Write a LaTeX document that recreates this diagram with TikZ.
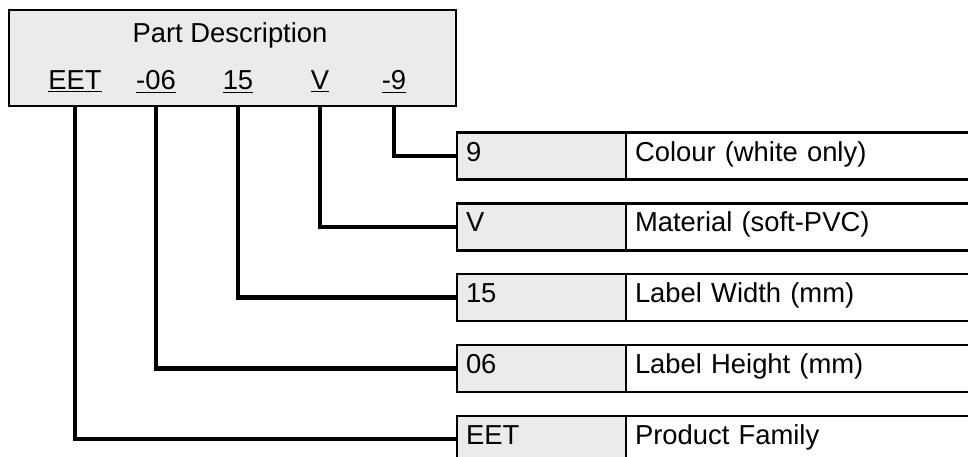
\documentclass[tikz,border=0pt]{standalone}
\usepackage{fontspec}
\setmainfont{Liberation Sans}
\usepackage{tikz}
\usetikzlibrary{positioning}

\begin{document}
\begin{tikzpicture}[
    x=0.5pt, y=-0.5pt,
    font=\fontsize{13.7}{16}\selectfont,
    partbox/.style={rectangle, draw, line width=1.2pt, fill=black!8, outer sep=0pt, minimum width=223.5pt, minimum height=48pt, anchor=north west},
    code/.style={anchor=base, inner sep=0pt},
    valcell/.style={rectangle, draw, line width=1.2pt, fill=black!8, outer sep=0pt, minimum width=84.5pt, minimum height=23.5pt, inner xsep=4.5pt, text width=75.5pt, align=left, text height=0.72em, text depth=0.21em},
    desccell/.style={rectangle, draw, line width=1.2pt, fill=white, outer sep=0pt, minimum width=182pt, minimum height=23.5pt, inner xsep=4.5pt, text width=173pt, align=left, text height=0.72em, text depth=0.21em},
    link/.style={line width=2.2pt}
]
\useasboundingbox (0,0) rectangle (968,456);

% Part description box
\node[partbox] (desc) at (9,10) {};
\node[code] (title) at (230,42) {Part Description};
\node[code] (cEET) at (75,89) {\underline{EET}};
\node[code] (c06) at (156,89) {\underline{-06}};
\node[code] (c15) at (238,89) {\underline{15}};
\node[code] (cV) at (320,89) {\underline{V}};
\node[code] (c9) at (394,89) {\underline{-9}};

% Meaning table
\node[valcell, anchor=north west] (v9) at (457,132.5) {9};
\node[desccell, right=0pt of v9] (d9) {Colour (white only)};
\node[valcell, below=11.9pt of v9] (vV) {V};
\node[desccell, right=0pt of vV] (dV) {Material (soft-PVC)};
\node[valcell, below=11.9pt of vV] (v15) {15};
\node[desccell, right=0pt of v15] (d15) {Label Width (mm)};
\node[valcell, below=11.9pt of v15] (v06) {06};
\node[desccell, right=0pt of v06] (d06) {Label Height (mm)};
\node[valcell, below=11.9pt of v06] (vEET) {EET};
\node[desccell, right=0pt of vEET] (dEET) {Product Family};

% Connectors
\draw[link] (c9.south |- desc.south) |- (v9.west);
\draw[link] (cV.south |- desc.south) |- (vV.west);
\draw[link] (c15.south |- desc.south) |- (v15.west);
\draw[link] (c06.south |- desc.south) |- (v06.west);
\draw[link] (cEET.south |- desc.south) |- (vEET.west);

\end{tikzpicture}
\end{document}
